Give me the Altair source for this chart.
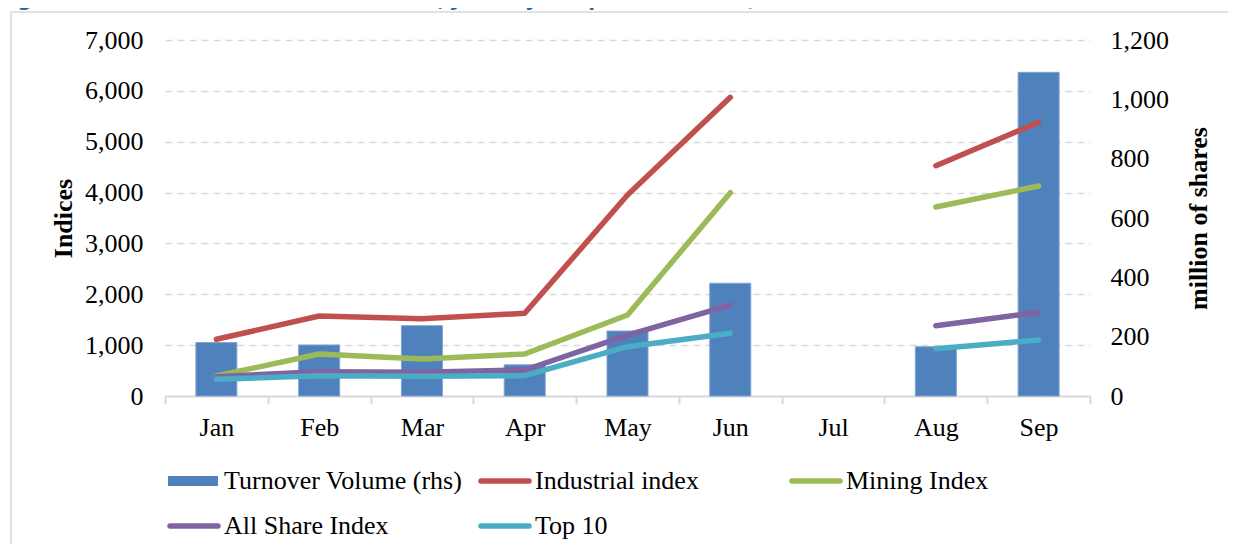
import altair as alt
import pandas as pd

# ---------------- data ----------------
months = ["Jan", "Feb", "Mar", "Apr", "May", "Jun", "Jul", "Aug", "Sep"]
turnover = [180, 172, 237, 105, 219, 380, None, 166, 1091]
industrial = [1115, 1573, 1520, 1626, 3952, 5872, None, 4528, 5381]
mining = [393, 826, 727, 826, 1592, 3997, None, 3716, 4129]
allshare = [380, 478, 466, 511, 1199, 1789, None, 1383, 1645]
top10 = [328, 400, 387, 400, 970, 1232, None, 930, 1101]

series_names = ["Turnover Volume (rhs)", "Industrial index", "Mining Index",
                "All Share Index", "Top 10"]
series_colors = ["#4F81BD", "#C0504D", "#9BBB59", "#8064A2", "#4BACC6"]

left_ticks = [0, 1000, 2000, 3000, 4000, 5000, 6000, 7000]
right_ticks = [0, 200, 400, 600, 800, 1000, 1200]

title_text = "Figure 6: Trend in stock market indices, January - September 2020)"

# ---------------- tables ----------------
bar_df = pd.DataFrame({"month": months, "value": turnover,
                       "series": series_names[0]}).dropna()

rows = []
for name, vals in zip(series_names[1:], [industrial, mining, allshare, top10]):
    seg = 1
    for i, (m, v) in enumerate(zip(months, vals)):
        if v is None:
            seg += 1
            continue
        rows.append({"month": m, "value": v, "series": name, "seg": seg, "idx": i})
line_df = pd.DataFrame(rows)

# legend entries laid out in a 3-column grid (row-major)
legend_df = pd.DataFrame({"label": series_names, "color": series_colors})
legend_df["k"] = range(len(legend_df))
legend_df["col"] = legend_df["k"] % 3
legend_df["row"] = legend_df["k"] // 3

FONT = "Liberation Serif"
FS = 26

x_scale = alt.Scale(domain=months, paddingInner=0, paddingOuter=0)
x_axis = alt.Axis(
    title=None, labelAngle=0, tickBand="extent", tickSize=8, tickWidth=2,
    tickColor="#d9d9d9", domainColor="#d9d9d9", domainWidth=2,
    labelFont=FONT, labelFontSize=FS, labelColor="black", labelPadding=10,
    grid=False,
)
color_scale = alt.Scale(domain=series_names, range=series_colors)

bars = alt.Chart(bar_df).mark_bar(size=41, stroke="#7FA3D0", strokeWidth=1).encode(
    x=alt.X("month:N", scale=x_scale, axis=x_axis),
    y=alt.Y("value:Q", scale=alt.Scale(domain=[0, 1200], nice=False),
            axis=alt.Axis(orient="right", values=right_ticks, format=",.0f",
                          grid=False, domain=False, ticks=False, tickSize=0,
                          labelPadding=20, labelFont=FONT, labelFontSize=FS,
                          labelColor="black", labelAlign="left",
                          title="million of shares", titleFont=FONT,
                          titleFontSize=FS, titleFontWeight="bold",
                          titleColor="black", titleAngle=270, titlePadding=43)),
    color=alt.Color("series:N", scale=color_scale, legend=None),
)

lines = alt.Chart(line_df).mark_line(strokeWidth=5.5, strokeCap="round",
                                     strokeJoin="round").encode(
    x=alt.X("month:N", scale=x_scale, axis=None),
    y=alt.Y("value:Q", scale=alt.Scale(domain=[0, 7000], nice=False),
            axis=alt.Axis(orient="left", values=left_ticks, format=",.0f",
                          grid=True, gridDash=[7, 5], gridColor="#d9d9d9",
                          gridWidth=1.5, domain=False, ticks=False, tickSize=0,
                          labelPadding=22, labelFont=FONT, labelFontSize=FS,
                          labelColor="black",
                          title="Indices", titleFont=FONT, titleFontSize=FS,
                          titleFontWeight="bold", titleColor="black",
                          titlePadding=8)),
    color=alt.Color("series:N", scale=color_scale, legend=None),
    detail="seg:N",
    order="idx:Q",
)

# ---- legend built from the series lists ----
leg_x = alt.X("col:Q", scale=alt.Scale(domain=[0, 3], range=[3, 936]), axis=None)
leg_y = alt.Y("row:Q", scale=alt.Scale(domain=[0, 1], range=[441, 486]), axis=None)
leg_base = alt.Chart(legend_df)

leg_rect = leg_base.transform_filter("datum.k == 0").mark_rule(
    strokeWidth=10, strokeCap="butt", x2Offset=50
).encode(x=leg_x, x2="col:Q", y=leg_y, stroke=alt.Stroke("color:N", scale=None))

leg_line = leg_base.transform_filter("datum.k > 0").mark_rule(
    strokeWidth=5.5, strokeCap="round", xOffset=2, x2Offset=50
).encode(x=leg_x, x2="col:Q", y=leg_y, stroke=alt.Stroke("color:N", scale=None))

leg_text = leg_base.mark_text(
    align="left", baseline="middle", dx=56, font=FONT, fontSize=FS, color="black"
).encode(x=leg_x, y=leg_y, text="label:N")

title_df = pd.DataFrame({"t": [title_text]})
title_mark = alt.Chart(title_df).mark_text(
    align="left", baseline="alphabetic", font="DejaVu Sans", fontSize=20,
    fontWeight="bold", color="#2A64A6",
).encode(text="t:N", x=alt.value(-168), y=alt.value(-34))

frame_left = alt.Chart(title_df).mark_rule(stroke="#d9d9d9", strokeWidth=1.5).encode(
    x=alt.value(-154), y=alt.value(-28), y2=alt.value(700))
frame_top = alt.Chart(title_df).mark_rule(stroke="#d9d9d9", strokeWidth=1.5).encode(
    x=alt.value(-154), x2=alt.value(1300), y=alt.value(-28))

chart = alt.layer(frame_left, frame_top, bars, lines, leg_rect, leg_line, leg_text,
                  title_mark).resolve_scale(
    x="independent", y="independent"
).properties(
    width=925, height=356,
    autosize=alt.AutoSizeParams(type="none"),
    padding={"left": 157, "top": 32, "right": 138, "bottom": 148},
    background="white",
).configure_view(stroke=None)

chart.save("out.html", embed_options={"renderer": "svg", "actions": False})
